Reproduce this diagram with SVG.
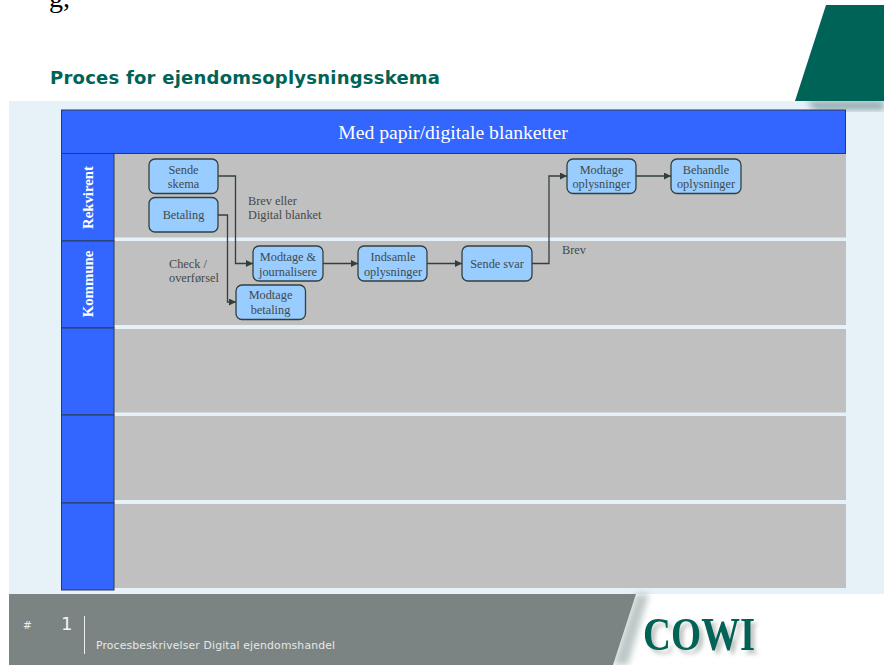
<svg xmlns="http://www.w3.org/2000/svg" width="884" height="665" viewBox="0 0 884 665">
<style>
.lane{fill:#c0c0c0}
.hdr{fill:#3366ff;stroke:#2b3a55;stroke-width:1}
.side{fill:#3366ff;stroke:#2b3a55;stroke-width:1}
.box{fill:#99ccff;stroke:#333f3f;stroke-width:1.3}
.t{font-family:"Liberation Serif",serif;font-size:12.3px;fill:#3f4a4a;text-anchor:middle}
.l{font-family:"Liberation Serif",serif;font-size:12.3px;fill:#454a4a}
.v{font-family:"Liberation Serif",serif;font-size:14.800px;font-weight:bold;fill:#fff;text-anchor:middle}
.c{fill:none;stroke:#333f3f;stroke-width:1.3;marker-end:url(#a)}
</style>
<defs>
<marker id="a" markerUnits="userSpaceOnUse" markerWidth="8" markerHeight="8" refX="7" refY="3.5" orient="auto"><path d="M0 0L7 3.5L0 7z" fill="#333f3f"/></marker>
<filter id="b" x="-20%" y="-20%" width="140%" height="140%"><feGaussianBlur stdDeviation="3"/></filter>
<filter id="ds" x="-10%" y="-20%" width="125%" height="150%"><feDropShadow dx="4" dy="4" stdDeviation="2" flood-color="#8a9090" flood-opacity=".55"/></filter>
</defs>
<rect width="884" height="665" fill="#fff"/>
<text x="49" y="7" font-family="Liberation Serif,serif" font-size="28" fill="#000">g,</text>
<rect x="9" y="101" width="875" height="493" fill="#e6f1f8"/>
<path d="M806 101H884V110H815z" fill="#5f8080" opacity=".6" filter="url(#b)"/>
<path d="M826 5H884V101H795z" fill="#006357"/>
<text x="50" y="84" font-family="'DejaVu Sans',sans-serif" font-size="18" font-weight="bold" fill="#006357" textLength="390" lengthAdjust="spacing">Proces for ejendomsoplysningsskema</text>

<g id="lanes">
<rect class="lane" x="114" y="154" width="732" height="83.500"/>
<rect class="lane" x="114" y="241" width="732" height="84"/>
<rect class="lane" x="114" y="329" width="732" height="83.500"/>
<rect class="lane" x="114" y="416" width="732" height="84"/>
<rect class="lane" x="114" y="504" width="732" height="84"/>
</g>
<g id="header"><rect class="hdr" x="61.500" y="110" width="784" height="43.500"/>
<text x="453" y="139" font-family="Liberation Serif,serif" font-size="19.700" fill="#fff" text-anchor="middle">Med papir/digitale blanketter</text></g>
<g id="lane-rekvirent"><rect class="side" x="61.500" y="153.500" width="52.500" height="87.500"/><text class="v" transform="translate(93 197.500) rotate(-90)">Rekvirent</text></g>
<g id="lane-kommune"><rect class="side" x="61.500" y="241" width="52.500" height="87"/><text class="v" transform="translate(93 284) rotate(-90)">Kommune</text></g>
<g id="lane-3"><rect class="side" x="61.500" y="328" width="52.500" height="87"/></g>
<g id="lane-4"><rect class="side" x="61.500" y="415" width="52.500" height="88"/></g>
<g id="lane-5"><rect class="side" x="61.500" y="503" width="52.500" height="87"/></g>

<g id="connectors">
<path class="c" d="M218 176H235.500V263.500H253"/>
<path class="c" d="M218 215H227.500V302H236"/>
<path class="c" d="M323 263.500H358"/>
<path class="c" d="M427 263.500H462"/>
<path class="c" d="M532 263.500H549V176H567"/>
<path class="c" d="M636 176H671"/>
</g>
<g id="n1"><rect class="box" x="149" y="159" width="69" height="34.500" rx="6"/><text class="t" x="183.500" y="174">Sende</text><text class="t" x="183.500" y="188">skema</text></g>
<g id="n2"><rect class="box" x="149" y="197.500" width="69" height="34.500" rx="6"/><text class="t" x="183.500" y="219">Betaling</text></g>
<g id="n3"><rect class="box" x="253" y="246" width="70" height="35" rx="6"/><text class="t" x="288" y="261">Modtage &amp;</text><text class="t" x="288" y="276">journalisere</text></g>
<g id="n4"><rect class="box" x="358" y="246" width="69" height="35" rx="6"/><text class="t" x="393" y="261">Indsamle</text><text class="t" x="393" y="276">oplysninger</text></g>
<g id="n5"><rect class="box" x="462" y="246" width="70" height="35" rx="6"/><text class="t" x="497" y="268">Sende svar</text></g>
<g id="n6"><rect class="box" x="236" y="285" width="69.500" height="34.500" rx="6"/><text class="t" x="270.500" y="299">Modtage</text><text class="t" x="270.500" y="314">betaling</text></g>
<g id="n7"><rect class="box" x="567" y="159" width="69" height="34.500" rx="6"/><text class="t" x="601.500" y="174">Modtage</text><text class="t" x="601.500" y="188">oplysninger</text></g>
<g id="n8"><rect class="box" x="671" y="159" width="70" height="34.500" rx="6"/><text class="t" x="706" y="174">Behandle</text><text class="t" x="706" y="188">oplysninger</text></g>
<g id="labels">
<text class="l" x="248" y="205">Brev eller</text>
<text class="l" x="248" y="219">Digital blanket</text>
<text class="l" x="169" y="268">Check /</text>
<text class="l" x="169" y="282">overførsel</text>
<text class="l" x="562" y="254">Brev</text>
</g>
<path d="M636 594L649 594L628 665H613z" fill="#6f8585" opacity=".45" filter="url(#b)"/>
<path d="M9 594H636L613 665H9z" fill="#7c8483"/>
<text x="23" y="629" font-family="'DejaVu Sans',sans-serif" font-size="10.500" fill="#e8eeee">#</text>
<text x="61" y="630" font-family="'DejaVu Sans',sans-serif" font-size="18" fill="#f2f5f5">1</text>
<path d="M84.500 616V654" stroke="#e8eeee" stroke-width="1" fill="none"/>
<text x="96" y="649" font-family="'DejaVu Sans',sans-serif" font-size="10.800" fill="#e4e9e9" textLength="239" lengthAdjust="spacing">Procesbeskrivelser Digital ejendomshandel</text>
<text x="643" y="650" font-family="Liberation Serif,serif" font-size="46" font-weight="bold" fill="#006357" textLength="112" lengthAdjust="spacingAndGlyphs" filter="url(#ds)">COWI</text>
</svg>
